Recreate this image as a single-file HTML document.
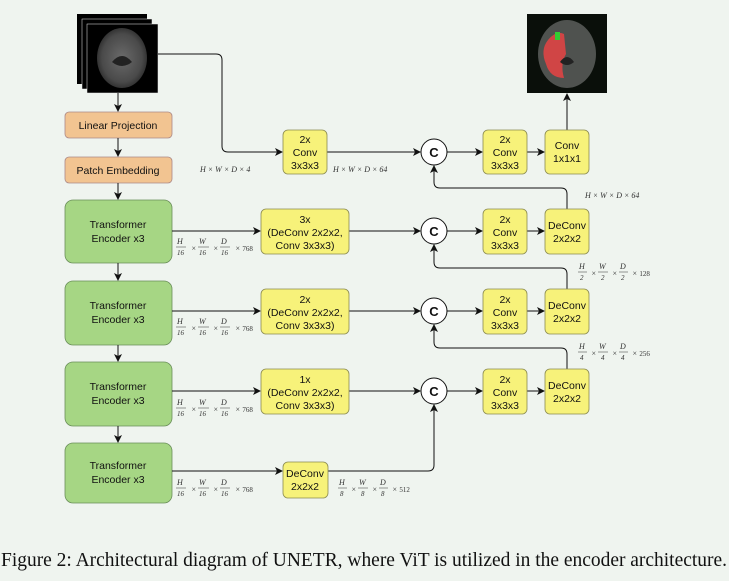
<!DOCTYPE html>
<html><head><meta charset="utf-8"><style>
html,body{margin:0;padding:0;background:#eff4ef;}
svg{display:block;}
.b{font-family:"Liberation Sans",sans-serif;font-size:10.5px;fill:#111;text-anchor:middle;}
.m{font-family:"Liberation Serif",serif;font-style:italic;font-size:8px;fill:#333;}
.n{font-family:"Liberation Serif",serif;font-size:7px;fill:#333;}
</style></head><body>
<svg width="729" height="581" viewBox="0 0 729 581" xmlns="http://www.w3.org/2000/svg">
<defs>
<marker id="a" markerWidth="8" markerHeight="8" refX="7" refY="4" orient="auto" markerUnits="userSpaceOnUse"><path d="M0,0 L8,4 L0,8 L2,4 z" fill="#111"/></marker>
<radialGradient id="br" cx="50%" cy="50%" r="50%"><stop offset="0" stop-color="#6a6a6a"/><stop offset="0.8" stop-color="#4a4a4a"/><stop offset="1" stop-color="#333"/></radialGradient>
</defs>
<rect width="729" height="581" fill="#eff4ef"/>
<!-- input stack -->
<rect x="77" y="14" width="70" height="70" fill="#000"/>
<rect x="82" y="19" width="70" height="70" fill="#000" stroke="#eee" stroke-width="0.5"/>
<rect x="87" y="24" width="71" height="69" fill="#000" stroke="#eee" stroke-width="0.5"/>
<ellipse cx="122" cy="58" rx="25" ry="30" fill="url(#br)"/>
<path d="M112,62 q10,-12 20,0 q-10,8 -20,0z" fill="#222"/>
<!-- output -->
<rect x="527" y="14" width="80" height="79" fill="#0a0f0a"/>
<ellipse cx="567" cy="54" rx="29" ry="34" fill="#4f524f"/>
<path d="M548,40 q8,-10 16,-6 l2,20 q-6,10 -2,24 q-14,0 -18,-14 q-6,-14 2,-24z" fill="#d04545"/>
<rect x="555" y="32" width="5" height="8" fill="#3c3"/>
<path d="M560,62 q7,-10 14,0 q-7,6 -14,0z" fill="#222"/>
<!-- left column -->
<rect x="65" y="112" width="107" height="26" rx="4" fill="#f2c491" stroke="#a88" stroke-width="0.8"/>
<text class="b" x="118" y="129">Linear Projection</text>
<rect x="65" y="157" width="107" height="26" rx="4" fill="#f2c491" stroke="#a88" stroke-width="0.8"/>
<text class="b" x="118" y="174">Patch Embedding</text>
<g fill="#a6d684" stroke="#6a8e5a" stroke-width="0.8">
<rect x="65" y="200" width="107" height="63" rx="8"/>
<rect x="65" y="281" width="107" height="64" rx="8"/>
<rect x="65" y="362" width="107" height="64" rx="8"/>
<rect x="65" y="443" width="107" height="60" rx="8"/>
</g>
<g class="b">
<text x="118" y="228">Transformer</text><text x="118" y="242">Encoder x3</text>
<text x="118" y="309">Transformer</text><text x="118" y="323">Encoder x3</text>
<text x="118" y="390">Transformer</text><text x="118" y="404">Encoder x3</text>
<text x="118" y="469">Transformer</text><text x="118" y="483">Encoder x3</text>
</g>
<g stroke="#111" stroke-width="1" fill="none" marker-end="url(#a)">
<line x1="118" y1="93" x2="118" y2="111"/>
<line x1="118" y1="138" x2="118" y2="156"/>
<line x1="118" y1="183" x2="118" y2="199"/>
<line x1="118" y1="263" x2="118" y2="280"/>
<line x1="118" y1="345" x2="118" y2="361"/>
<line x1="118" y1="426" x2="118" y2="442"/>
<path d="M158,54 H216 q6,0 6,6 V146 q0,6 6,6 H282"/>
<line x1="172" y1="231" x2="260" y2="231"/>
<line x1="172" y1="311" x2="260" y2="311"/>
<line x1="172" y1="391" x2="260" y2="391"/>
<line x1="172" y1="471" x2="282" y2="471"/>
<line x1="327" y1="152" x2="420" y2="152"/>
<line x1="349" y1="231" x2="420" y2="231"/>
<line x1="349" y1="311" x2="420" y2="311"/>
<line x1="349" y1="391" x2="420" y2="391"/>
<path d="M328,471 H428 q6,0 6,-6 V405"/>
<line x1="447" y1="152" x2="482" y2="152"/>
<line x1="447" y1="231" x2="482" y2="231"/>
<line x1="447" y1="311" x2="482" y2="311"/>
<line x1="447" y1="391" x2="482" y2="391"/>
<line x1="527" y1="152" x2="544" y2="152"/>
<line x1="527" y1="231" x2="544" y2="231"/>
<line x1="527" y1="311" x2="544" y2="311"/>
<line x1="527" y1="391" x2="544" y2="391"/>
<line x1="567" y1="130" x2="567" y2="94"/>
<path d="M567,209 V194 q0,-6 -6,-6 H440 q-6,0 -6,-6 V166"/>
<path d="M567,289 V274 q0,-6 -6,-6 H440 q-6,0 -6,-6 V245"/>
<path d="M567,369 V354 q0,-6 -6,-6 H440 q-6,0 -6,-6 V325"/>
</g>
<g fill="#f7f27a" stroke="#8a8a50" stroke-width="0.8">
<rect x="283" y="130" width="44" height="44" rx="5"/>
<rect x="261" y="209" width="88" height="45" rx="5"/>
<rect x="261" y="289" width="88" height="45" rx="5"/>
<rect x="261" y="369" width="88" height="45" rx="5"/>
<rect x="283" y="462" width="45" height="36" rx="5"/>
<rect x="483" y="130" width="44" height="44" rx="5"/>
<rect x="545" y="130" width="44" height="44" rx="5"/>
<rect x="483" y="209" width="44" height="45" rx="5"/>
<rect x="545" y="209" width="44" height="45" rx="5"/>
<rect x="483" y="289" width="44" height="45" rx="5"/>
<rect x="545" y="289" width="44" height="45" rx="5"/>
<rect x="483" y="369" width="44" height="45" rx="5"/>
<rect x="545" y="369" width="44" height="45" rx="5"/>
</g>
<g class="b">
<text x="305" y="143">2x</text><text x="305" y="156">Conv</text><text x="305" y="169">3x3x3</text>
<text x="305" y="223">3x</text><text x="305" y="236">(DeConv 2x2x2,</text><text x="305" y="249">Conv 3x3x3)</text>
<text x="305" y="303">2x</text><text x="305" y="316">(DeConv 2x2x2,</text><text x="305" y="329">Conv 3x3x3)</text>
<text x="305" y="383">1x</text><text x="305" y="396">(DeConv 2x2x2,</text><text x="305" y="409">Conv 3x3x3)</text>
<text x="305" y="477">DeConv</text><text x="305" y="490">2x2x2</text>
<text x="505" y="143">2x</text><text x="505" y="156">Conv</text><text x="505" y="169">3x3x3</text>
<text x="567" y="149">Conv</text><text x="567" y="162">1x1x1</text>
<text x="505" y="223">2x</text><text x="505" y="236">Conv</text><text x="505" y="249">3x3x3</text>
<text x="567" y="229">DeConv</text><text x="567" y="242">2x2x2</text>
<text x="505" y="303">2x</text><text x="505" y="316">Conv</text><text x="505" y="329">3x3x3</text>
<text x="567" y="309">DeConv</text><text x="567" y="322">2x2x2</text>
<text x="505" y="383">2x</text><text x="505" y="396">Conv</text><text x="505" y="409">3x3x3</text>
<text x="567" y="389">DeConv</text><text x="567" y="402">2x2x2</text>
</g>
<g fill="#fff" stroke="#111" stroke-width="1">
<circle cx="434" cy="152" r="13"/><circle cx="434" cy="231" r="13"/>
<circle cx="434" cy="311" r="13"/><circle cx="434" cy="391" r="13"/>
</g>
<g font-family="Liberation Sans,sans-serif" font-weight="bold" font-size="13" text-anchor="middle" fill="#111">
<text x="434" y="157">C</text><text x="434" y="236">C</text><text x="434" y="316">C</text><text x="434" y="396">C</text>
</g>
<g class="m">
<text x="200" y="172">H × W × D × 4</text>
<text x="333" y="172">H × W × D × 64</text>
<text x="585" y="198">H × W × D × 64</text>
</g>
<g class="m">
<g transform="translate(177,244)"><text x="0" y="0">H</text><line x1="-1" y1="3" x2="9" y2="3" stroke="#333" stroke-width="0.5"/><text class="n" x="0" y="11">16</text><text x="14" y="7">×</text><text x="22" y="0">W</text><line x1="21" y1="3" x2="32" y2="3" stroke="#333" stroke-width="0.5"/><text class="n" x="22" y="11">16</text><text x="36" y="7">×</text><text x="44" y="0">D</text><line x1="43" y1="3" x2="53" y2="3" stroke="#333" stroke-width="0.5"/><text class="n" x="44" y="11">16</text><text x="58" y="7">× <tspan font-style="normal" font-size="7">768</tspan></text></g>
<g transform="translate(177,324)"><text x="0" y="0">H</text><line x1="-1" y1="3" x2="9" y2="3" stroke="#333" stroke-width="0.5"/><text class="n" x="0" y="11">16</text><text x="14" y="7">×</text><text x="22" y="0">W</text><line x1="21" y1="3" x2="32" y2="3" stroke="#333" stroke-width="0.5"/><text class="n" x="22" y="11">16</text><text x="36" y="7">×</text><text x="44" y="0">D</text><line x1="43" y1="3" x2="53" y2="3" stroke="#333" stroke-width="0.5"/><text class="n" x="44" y="11">16</text><text x="58" y="7">× <tspan font-style="normal" font-size="7">768</tspan></text></g>
<g transform="translate(177,405)"><text x="0" y="0">H</text><line x1="-1" y1="3" x2="9" y2="3" stroke="#333" stroke-width="0.5"/><text class="n" x="0" y="11">16</text><text x="14" y="7">×</text><text x="22" y="0">W</text><line x1="21" y1="3" x2="32" y2="3" stroke="#333" stroke-width="0.5"/><text class="n" x="22" y="11">16</text><text x="36" y="7">×</text><text x="44" y="0">D</text><line x1="43" y1="3" x2="53" y2="3" stroke="#333" stroke-width="0.5"/><text class="n" x="44" y="11">16</text><text x="58" y="7">× <tspan font-style="normal" font-size="7">768</tspan></text></g>
<g transform="translate(177,485)"><text x="0" y="0">H</text><line x1="-1" y1="3" x2="9" y2="3" stroke="#333" stroke-width="0.5"/><text class="n" x="0" y="11">16</text><text x="14" y="7">×</text><text x="22" y="0">W</text><line x1="21" y1="3" x2="32" y2="3" stroke="#333" stroke-width="0.5"/><text class="n" x="22" y="11">16</text><text x="36" y="7">×</text><text x="44" y="0">D</text><line x1="43" y1="3" x2="53" y2="3" stroke="#333" stroke-width="0.5"/><text class="n" x="44" y="11">16</text><text x="58" y="7">× <tspan font-style="normal" font-size="7">768</tspan></text></g>
<g transform="translate(339,485)"><text x="0" y="0">H</text><line x1="-1" y1="3" x2="8" y2="3" stroke="#333" stroke-width="0.5"/><text class="n" x="1" y="11">8</text><text x="12" y="7">×</text><text x="20" y="0">W</text><line x1="19" y1="3" x2="29" y2="3" stroke="#333" stroke-width="0.5"/><text class="n" x="22" y="11">8</text><text x="33" y="7">×</text><text x="41" y="0">D</text><line x1="40" y1="3" x2="49" y2="3" stroke="#333" stroke-width="0.5"/><text class="n" x="42" y="11">8</text><text x="53" y="7">× <tspan font-style="normal" font-size="7">512</tspan></text></g>
<g transform="translate(579,269)"><text x="0" y="0">H</text><line x1="-1" y1="3" x2="8" y2="3" stroke="#333" stroke-width="0.5"/><text class="n" x="1" y="11">2</text><text x="12" y="7">×</text><text x="20" y="0">W</text><line x1="19" y1="3" x2="29" y2="3" stroke="#333" stroke-width="0.5"/><text class="n" x="22" y="11">2</text><text x="33" y="7">×</text><text x="41" y="0">D</text><line x1="40" y1="3" x2="49" y2="3" stroke="#333" stroke-width="0.5"/><text class="n" x="42" y="11">2</text><text x="53" y="7">× <tspan font-style="normal" font-size="7">128</tspan></text></g>
<g transform="translate(579,349)"><text x="0" y="0">H</text><line x1="-1" y1="3" x2="8" y2="3" stroke="#333" stroke-width="0.5"/><text class="n" x="1" y="11">4</text><text x="12" y="7">×</text><text x="20" y="0">W</text><line x1="19" y1="3" x2="29" y2="3" stroke="#333" stroke-width="0.5"/><text class="n" x="22" y="11">4</text><text x="33" y="7">×</text><text x="41" y="0">D</text><line x1="40" y1="3" x2="49" y2="3" stroke="#333" stroke-width="0.5"/><text class="n" x="42" y="11">4</text><text x="53" y="7">× <tspan font-style="normal" font-size="7">256</tspan></text></g>
</g>
<text x="1" y="566" font-family="Liberation Serif,serif" font-size="20" fill="#111" textLength="726" lengthAdjust="spacingAndGlyphs">Figure 2: Architectural diagram of UNETR, where ViT is utilized in the encoder architecture.</text>
</svg>
</body></html>
